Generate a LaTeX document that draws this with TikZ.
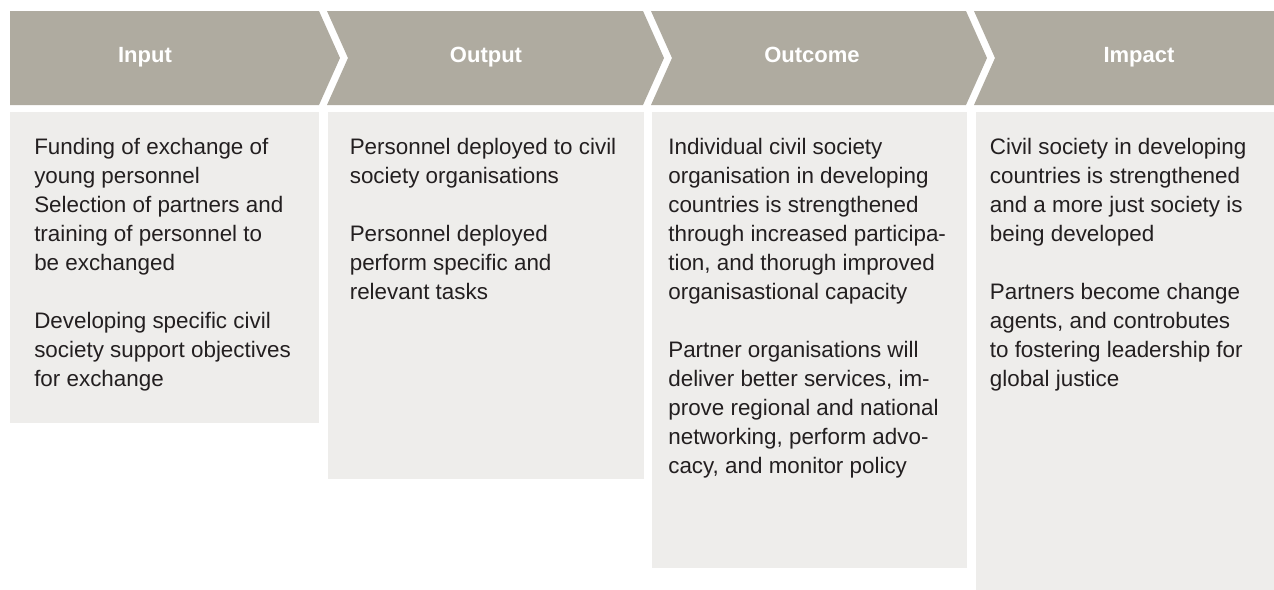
\documentclass[tikz,border=0pt]{standalone}
\usepackage{fontspec}
\setmainfont{Liberation Sans}
\usetikzlibrary{positioning}
\definecolor{headgrey}{HTML}{AFABA0}
\definecolor{boxgrey}{HTML}{EEEDEB}
\definecolor{textdark}{HTML}{231F20}
\tikzset{stage head/.style={fill=headgrey},
	head label/.style={anchor=base,text=white,font=\bfseries\fontsize{16.5}{18}\selectfont},
	stage box/.style={fill=boxgrey,anchor=north west,inner sep=0pt},
	body text/.style={inner sep=0pt,align=left,text=textdark,font=\fontsize{16.8}{21.75}\selectfont},
}

\begin{document}
\begin{tikzpicture}[x=0.75pt,y=-0.75pt]
				\clip (0,0) rectangle (1274,589);
				
				% header chevrons
				\fill[stage head] (10,11) -- (319,11) -- (340,58) -- (319,105) -- (10,105) -- cycle;
				\fill[stage head] (327,11) -- (643,11) -- (664,58) -- (643,105) -- (327,105) -- (348,58) -- cycle;
				\fill[stage head] (651,11) -- (966,11) -- (987,58) -- (966,105) -- (651,105) -- (672,58) -- cycle;
				\fill[stage head] (974,11) -- (1300,11) -- (1300,105) -- (974,105) -- (995,58) -- cycle;
				
				\node[head label] (hin) at (145,62) {Input};
				\node[head label] (hout) at (486,62) {Output};
				\node[head label] (hcome) at (812,62) {Outcome};
				\node[head label] (himp) at (1139,62) {Impact};
				
				% boxes
				\node[stage box,minimum width=231.75pt,minimum height=233.25pt] (Bin) at (10,112) {};
				\node[stage box,minimum width=237pt,minimum height=275.25pt] (Bout) [right=6pt of Bin.north east,anchor=north west] {};
				\node[stage box,minimum width=236.25pt,minimum height=342pt] (Bcome) [right=6pt of Bout.north east,anchor=north west] {};
				\node[stage box,minimum width=237pt,minimum height=366pt] (Bimp) [right=6pt of Bcome.north east,anchor=north west] {};
				
				\node[body text] (tin) [below right=16.3pt and 18pt of Bin.north west] {\strut Funding of exchange of\\young personnel\\Selection of partners and\\training of personnel to\\be exchanged\\[21.75pt]Developing specific civil\\society support objectives\\for exchange};
				\node[body text] (tout) [below right=16.3pt and 16.5pt of Bout.north west] {\strut Personnel deployed to civil\\society organisations\\[21.75pt]Personnel deployed\\perform specific and\\relevant tasks};
				\node[body text] (tcome) [below right=16.3pt and 12pt of Bcome.north west] {\strut Individual civil society\\organisation in developing\\countries is strengthened\\through increased participa-\\tion, and thorugh improved\\organisastional capacity\\[21.75pt]Partner organisations will\\deliver better services, im-\\prove regional and national\\networking, perform advo-\\cacy, and monitor policy};
				\node[body text] (timp) [below right=16.3pt and 10.5pt of Bimp.north west] {\strut Civil society in developing\\countries is strengthened\\and a more just society is\\being developed\\[21.75pt]Partners become change\\agents, and controbutes\\to fostering leadership for\\global justice};
				
			\end{tikzpicture}
\end{document}
